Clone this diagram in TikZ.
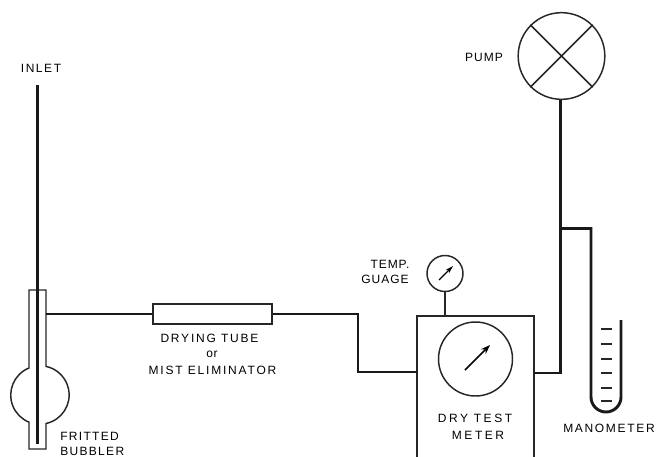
\documentclass[tikz,border=0pt]{standalone}
\usepackage{fontspec}
\setmainfont{Liberation Sans}
\usetikzlibrary{arrows.meta}
\tikzset{
  thin line/.style={line width=1.1pt,black!85},
  pipe/.style={line width=2.2pt,black!90},
  lab/.style={font=\fontsize{9}{12}\selectfont\addfontfeatures{LetterSpace=#1},align=center,inner sep=0pt,text=black},
  dial/.style={circle,draw,thin line,inner sep=0pt},
}
\begin{document}
\begin{tikzpicture}[x=0.75pt,y=-0.75pt]
\useasboundingbox (0,0) rectangle (657,457);
% bubbler
\draw[thin line,fill=white] (46,367) -- (46,290) -- (29,290) -- (29,368)
  arc[start angle=248,end angle=112,radius=29.2] -- (29,449) -- (46,449) -- (46,423.5)
  arc[start angle=78,end angle=-78,radius=29.2] -- cycle;
\coordinate (in) at (37.5,85);
\coordinate (bb) at (37.5,444);
\draw[pipe] (in) -- (bb);
% drying tube
\node[draw,thin line,minimum width=89pt,minimum height=15pt,inner sep=0pt] (dry) at (212.5,314) {};
\coordinate (bubout) at (46,314);
\draw[line width=1.6pt,black!90] (bubout) -- (dry.west);
% meter
\coordinate (mtl) at (417,316);
\coordinate (mtr) at (534,316);
\draw[thin line] (417,457) -- (mtl) -- (mtr) -- (534,457);
\coordinate (min) at (417,372);
\coordinate (mout) at (534,373);
\draw[pipe] (dry.east) -| (358,372) -- (min);
\node[dial,minimum size=55.5pt] (mdial) at (475.5,359) {};
\draw[line width=1.2pt,-{Stealth[length=7pt,width=5pt]}] (465,370) -- (490,345);
\node[lab=21] (mlab) at (475,418) {DRY TEST};
\node[lab=21] (mlab2) at (478,435) {METER};
% gauge
\node[dial,minimum size=27pt] (gauge) at (445,273.5) {};
\draw[line width=1pt,-{Stealth[length=6pt,width=3.5pt]}] (439,280) -- (453,266);
\coordinate (gb) at (445,316);
\draw[thin line] (gauge) -- (gb);
\node[lab=8] (tlab) at (390,264) {TEMP.};
\node[lab=8] (tlab2) at (385,279.5) {GUAGE};
% pump
\node[dial,minimum size=65pt] (pump) at (561.5,56) {};
\draw[thin line] (pump.45) -- (pump.225) (pump.135) -- (pump.315);
\draw[pipe] (mout) -- (560.5,373) -- (560.5,100);
\node[lab=8] (plab) at (484,57) {PUMP};
% manometer
\coordinate (tj) at (560.5,228.5);
\draw[pipe] (tj) -- (591,228.5) -- (591,397) arc[start angle=180,end angle=0,radius=15] -- (621,320);
\foreach \yy in {329,344,359,373,388,401} \draw[thin line] (601,\yy) -- (612,\yy);
\node[lab=14] (mano) at (609,428) {MANOMETER};
% labels
\node[lab=13] (ilab) at (41,68) {INLET};
\node[lab=11,anchor=west] (flab) at (60,436) {FRITTED};
\node[lab=11,anchor=west] (flab2) at (60,451.5) {BUBBLER};
\node[lab=15] (dlab) at (209.5,338) {DRYING TUBE};
\node[lab=5] (dlab2) at (212,354) {or};
\node[lab=15] (dlab3) at (212.5,370) {MIST ELIMINATOR};
\end{tikzpicture}
\end{document}
